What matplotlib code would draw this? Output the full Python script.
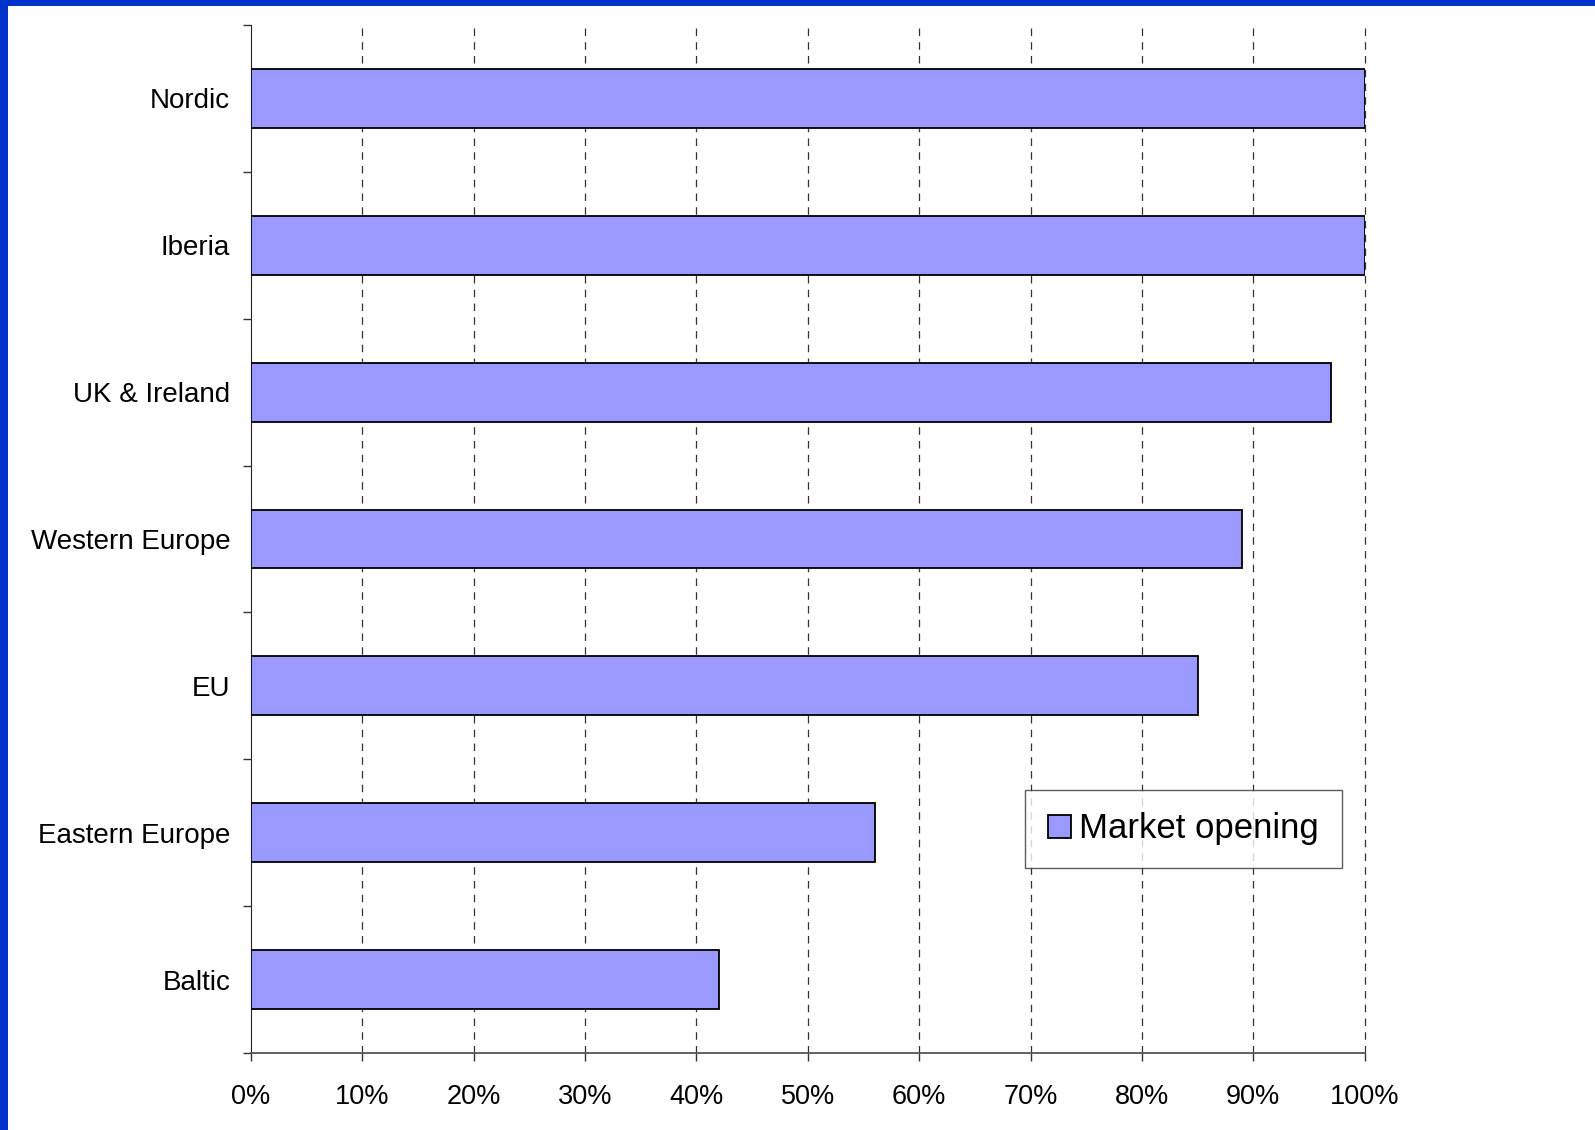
import numpy as np
import matplotlib
matplotlib.use("Agg")
import matplotlib.pyplot as plt
from matplotlib.patches import Rectangle, Patch
from matplotlib.ticker import FixedLocator, PercentFormatter

plt.rcParams['font.family'] = ['Liberation Sans', 'DejaVu Sans']

regions = ["Nordic", "Iberia", "UK & Ireland", "Western Europe", "EU",
           "Eastern Europe", "Baltic"]
market_opening = [100, 100, 97, 89, 85, 56, 42]
x_ticks = [0, 10, 20, 30, 40, 50, 60, 70, 80, 90, 100]

BAR_COLOR = "#9999FF"
FRAME_BLUE = "#0033CC"

fig = plt.figure(figsize=(15.95, 11.3), dpi=100)
ax = fig.add_axes([251 / 1595, 1 - 1053 / 1130, (1364.7 - 251) / 1595, (1053 - 25) / 1130])

# slide frame: blue strip along the top and left edge
fig.patches.append(Rectangle((0, 1 - 6 / 1130), 1, 6 / 1130, transform=fig.transFigure,
                             facecolor=FRAME_BLUE, edgecolor="none", zorder=10))
fig.patches.append(Rectangle((0, 0), 8 / 1595, 1, transform=fig.transFigure,
                             facecolor=FRAME_BLUE, edgecolor="none", zorder=10))

y = np.arange(len(regions))
ax.barh(y, market_opening, height=0.4, color=BAR_COLOR, edgecolor="black",
        linewidth=1.3, zorder=3)

ax.set_xlim(0, 100)
ax.set_ylim(len(regions) - 0.5, -0.5)

ax.set_xticks(x_ticks)
ax.xaxis.set_major_formatter(PercentFormatter(decimals=0))
ax.set_yticks(y)
ax.set_yticklabels(regions)
ax.yaxis.set_minor_locator(FixedLocator(np.arange(len(regions) + 1) - 0.5))

ax.tick_params(axis="x", length=6, width=1, color="#333333", labelsize=19.5, pad=16)
ax.tick_params(axis="y", which="major", length=0, labelsize=20, pad=15)
ax.tick_params(axis="y", which="minor", length=6, width=1, color="#333333")

for side in ("top", "right"):
    ax.spines[side].set_visible(False)
ax.spines["left"].set_color("#222222")
ax.spines["bottom"].set_color("#555555")
ax.spines["bottom"].set_linewidth(1.3)

# dashed vertical gridlines, including the one on the 100% edge
for xv in x_ticks[1:]:
    ax.axvline(xv, color="#333333", linestyle=(0, (6, 5)), linewidth=0.9,
               zorder=1, clip_on=False)

handle = Patch(facecolor=BAR_COLOR, edgecolor="black", linewidth=1.3)
leg = ax.legend([handle], ["Market opening"], loc="center",
                bbox_to_anchor=(0.8373, 0.2179), fontsize=25, frameon=True,
                fancybox=False, handlelength=0.65, handleheight=0.65,
                handletextpad=0.25, borderpad=0.65, borderaxespad=0)
leg.get_frame().set_edgecolor("#333333")
leg.get_frame().set_linewidth(1.0)
leg.set_zorder(5)

fig.savefig("out.png", dpi=100)
